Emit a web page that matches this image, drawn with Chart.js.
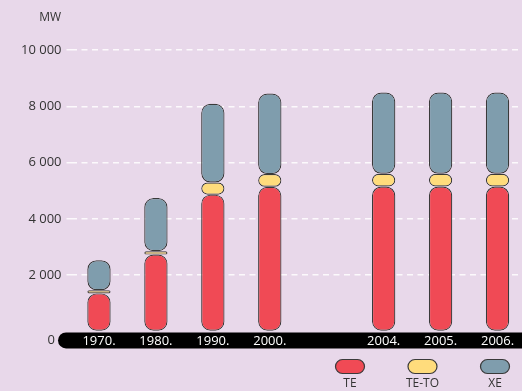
<!DOCTYPE html>
<html>
<head>
<meta charset="utf-8">
<script src="https://cdn.jsdelivr.net/npm/chart.js@4"></script>
<style>
  html, body { margin: 0; padding: 0; overflow: hidden; background: #e8d8ea; }
  #wrap { width: 530px; height: 391px; }
</style>
</head>
<body>
<div id="wrap"><canvas id="chart"></canvas></div>
<script>
const years = ['1970.', '1980.', '1990.', '2000.', '', '2004.', '2005.', '2006.'];
const te   = [1350, 2730, 4860, 5140, null, 5150, 5150, 5150];
const teTo = [110, 120, 430, 450, null, 450, 450, 450];
const xe   = [1070, 1890, 2800, 2860, null, 2890, 2890, 2890];
const yTicks = [0, 2000, 4000, 6000, 8000, 10000];

const FONT = 'Open Sans';
const round = { topLeft: 9, topRight: 9, bottomLeft: 9, bottomRight: 9 };
const dash = [6, 4.5];
const gridWhite = ctx => ctx.tick && ctx.tick.value === 0 ? 'rgba(0,0,0,0)' : 'rgba(255,255,255,0.85)';

function fmt(v) {
    return String(v).replace(/\B(?=(\d{3})+(?!\d))/g, ' ');
}

// black strip under the bars, plus the zero label and unit
const axisBand = {
    id: 'axisBand',
    beforeDraw(chart) {
        const c = chart.ctx;
        const y0 = chart.scales.y.getPixelForValue(0);
        const top = y0 + 1, h = 16, left = 58, r = 8;
        c.save();
        c.fillStyle = '#000';
        c.beginPath();
        c.moveTo(left + r, top);
        c.lineTo(chart.width, top);
        c.lineTo(chart.width, top + h);
        c.lineTo(left + r, top + h);
        c.arc(left + r, top + h / 2, r, Math.PI / 2, Math.PI * 1.5);
        c.closePath();
        c.fill();
        c.fillStyle = '#333';
        c.font = '13px "' + FONT + '"';
        c.textAlign = 'right';
        c.textBaseline = 'middle';
        c.fillText(fmt(yTicks[0]), 55, top + h / 2);
        c.font = '12px "' + FONT + '"';
        c.fillText('MW', 61, 18);
        c.restore();
    }
};

// legend: pill swatch with the label underneath
const pillLegend = {
    id: 'pillLegend',
    afterDraw(chart) {
        const c = chart.ctx;
        c.save();
        chart.data.datasets.forEach((ds, i) => {
            const cx = 350 + i * 72.5, w = 29, h = 14, y = 359.5;
            const x = cx - w / 2, r = h / 2;
            c.beginPath();
            c.moveTo(x + r, y);
            c.lineTo(x + w - r, y);
            c.arc(x + w - r, y + r, r, -Math.PI / 2, Math.PI / 2);
            c.lineTo(x + r, y + h);
            c.arc(x + r, y + r, r, Math.PI / 2, Math.PI * 1.5);
            c.closePath();
            c.fillStyle = ds.backgroundColor;
            c.fill();
            c.lineWidth = 1.2;
            c.strokeStyle = '#3a3a3a';
            c.stroke();
            c.fillStyle = '#333';
            c.font = '12px "' + FONT + '"';
            c.textAlign = 'center';
            c.textBaseline = 'middle';
            c.fillText(ds.label, cx, 384);
        });
        c.restore();
    }
};

const barStyle = {
    borderColor: '#3a3a3a',
    borderWidth: 1.2,
    borderRadius: round,
    borderSkipped: false,
    categoryPercentage: 1,
    barPercentage: 0.41
};

new Chart(document.getElementById('chart'), {
    type: 'bar',
    data: {
        labels: years,
        datasets: [
            { label: 'TE', data: te, backgroundColor: '#f04a55', ...barStyle },
            { label: 'TE-TO', data: teTo, backgroundColor: '#ffdc7c', ...barStyle },
            { label: 'XE', data: xe, backgroundColor: '#7f9dad', ...barStyle }
        ]
    },
    options: {
        responsive: true,
        maintainAspectRatio: false,
        animation: false,
        layout: { padding: { top: 50, right: 4, bottom: 40, left: 0 } },
        plugins: {
            legend: { display: false },
            tooltip: { enabled: false }
        },
        scales: {
            x: {
                stacked: true,
                grid: { display: false, drawTicks: false },
                border: { display: false },
                ticks: {
                    color: '#fff',
                    font: { family: FONT, size: 13 },
                    padding: 2,
                    maxRotation: 0,
                    autoSkip: false
                }
            },
            y: {
                stacked: true,
                min: 0,
                max: 10000,
                afterFit: s => { s.width = 70.5; },
                afterBuildTicks: s => { s.ticks = yTicks.map(v => ({ value: v })); },
                grid: {
                    color: gridWhite,
                    lineWidth: 1.5,
                    borderDash: dash,
                    tickLength: 4,
                    tickColor: gridWhite,
                    tickBorderDash: dash
                },
                border: { display: false, dash: dash },
                ticks: {
                    color: '#333',
                    font: { family: FONT, size: 13 },
                    padding: 5,
                    callback: v => v === 0 ? '' : fmt(v)
                }
            }
        }
    },
    plugins: [axisBand, pillLegend]
});
</script>
</body>
</html>
